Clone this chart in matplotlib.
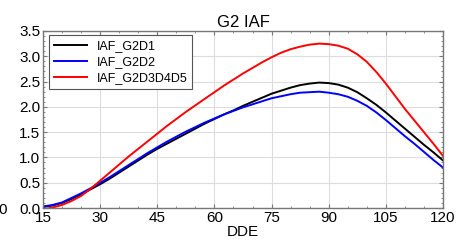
import matplotlib
matplotlib.use("Agg")
import matplotlib.pyplot as plt
from matplotlib.ticker import MultipleLocator, AutoMinorLocator

plt.rcParams['font.family'] = ['Liberation Sans', 'DejaVu Sans']

dde = [15, 17.5, 20, 22.5, 25, 27.5, 30, 32.5, 35, 37.5, 40, 42.5, 45, 47.5, 50, 52.5,
       55, 57.5, 60, 62.5, 65, 67.5, 70, 72.5, 75, 77.5, 80, 82.5, 85, 87.5, 90, 92.5,
       95, 97.5, 100, 102.5, 105, 107.5, 110, 112.5, 115, 117.5, 120]
iaf_g2d1 = [0.02, 0.05, 0.10, 0.18, 0.27, 0.37, 0.47, 0.58, 0.70, 0.82, 0.94, 1.06, 1.17, 1.27,
            1.37, 1.47, 1.57, 1.67, 1.76, 1.85, 1.93, 2.02, 2.10, 2.18, 2.26, 2.32, 2.38, 2.43,
            2.46, 2.48, 2.47, 2.44, 2.38, 2.29, 2.17, 2.04, 1.89, 1.73, 1.57, 1.41, 1.25, 1.10, 0.94]
iaf_g2d2 = [0.03, 0.06, 0.11, 0.20, 0.29, 0.39, 0.50, 0.61, 0.73, 0.85, 0.97, 1.09, 1.20, 1.31,
            1.41, 1.51, 1.60, 1.69, 1.77, 1.85, 1.92, 1.99, 2.05, 2.11, 2.17, 2.21, 2.25, 2.28,
            2.29, 2.30, 2.28, 2.25, 2.20, 2.12, 2.02, 1.89, 1.74, 1.58, 1.42, 1.27, 1.11, 0.95, 0.80]
iaf_g2d3d4d5 = [-0.03, 0.01, 0.06, 0.14, 0.24, 0.38, 0.54, 0.70, 0.86, 1.02, 1.17, 1.32, 1.47, 1.62,
                1.76, 1.90, 2.03, 2.16, 2.29, 2.42, 2.54, 2.66, 2.77, 2.88, 2.98, 3.07, 3.14, 3.19,
                3.23, 3.25, 3.24, 3.21, 3.15, 3.04, 2.89, 2.69, 2.46, 2.21, 1.96, 1.73, 1.50, 1.27, 1.03]

series = [("IAF_G2D1", iaf_g2d1, "black"),
          ("IAF_G2D2", iaf_g2d2, "blue"),
          ("IAF_G2D3D4D5", iaf_g2d3d4d5, "red")]

fig = plt.figure(figsize=(4.6, 2.44), dpi=100)
ax = fig.add_axes([0.0935, 0.1475, 0.8695, 0.7255])

for name, vals, col in series:
    ax.plot(dde, vals, color=col, lw=1.4, label=name)

ax.set_xlim(15, 120)
ax.set_ylim(0, 3.5)
ax.xaxis.set_major_locator(MultipleLocator(15))
ax.yaxis.set_major_locator(MultipleLocator(0.5))
ax.xaxis.set_minor_locator(AutoMinorLocator(3))
ax.yaxis.set_minor_locator(AutoMinorLocator(5))
ax.grid(True, which='major', color='#dddddd', lw=0.8)
ax.tick_params(which='both', direction='in', top=True, right=True, color='#777777')
ax.tick_params(which='major', length=3, labelsize=11, pad=2)
ax.tick_params(which='minor', length=1.5)
for s in ax.spines.values():
    s.set_color('#777777')
    s.set_linewidth(1.0)

ax.set_title("G2 IAF", fontsize=12, pad=3)
ax.set_xlabel("DDE", fontsize=11, labelpad=0)

leg = ax.legend(loc='upper left', bbox_to_anchor=(0.015, 0.975), fontsize=9,
                fancybox=False, framealpha=1, edgecolor='#555555',
                handlelength=2.6, borderaxespad=0, labelspacing=0.3)
leg.get_frame().set_linewidth(0.8)

fig.text(-0.004, 0.14, "0", fontsize=11, va='center', ha='left')

fig.savefig("out.png", dpi=100)
